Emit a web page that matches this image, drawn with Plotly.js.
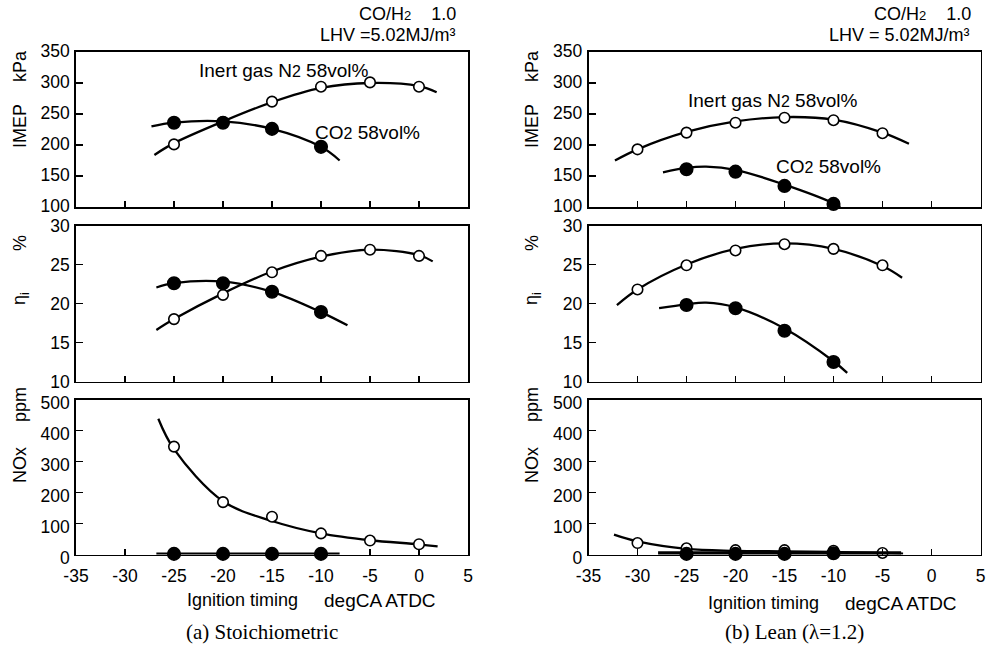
<!DOCTYPE html>
<html>
<head>
<meta charset="utf-8">
<script src="https://cdn.plot.ly/plotly-3.0.1.min.js"></script>
<style>html,body{margin:0;padding:0;background:#fff;}#chart{width:992px;height:648px;}</style>
</head>
<body>
<div id="chart"></div>
<script>
// ---------- (a) Stoichiometric ----------
const stoichTiming    = [-25, -20, -15, -10, -5, 0];
const stoichTimingCO2 = [-25, -20, -15, -10];
const stoichImepN2  = [201, 237, 270, 294, 301, 294];
const stoichImepCO2 = [236, 236, 226, 197];
const stoichEtaN2   = [18.0, 21.1, 24.0, 26.1, 26.9, 26.1];
const stoichEtaCO2  = [22.6, 22.6, 21.5, 18.9];
const stoichNoxN2   = [348, 169, 122, 68, 45, 33];
const stoichNoxCO2  = [2, 2, 2, 2];

// fitted curves (a)
const stoichImepN2CurveX  = [-27, -25, -20, -15, -10, -5, 0, 1.8];
const stoichImepN2CurveY  = [184, 203, 238, 269, 292, 300, 295, 285];
const stoichImepCO2CurveX = [-27.3, -25, -20, -15, -10, -8.1];
const stoichImepCO2CurveY = [230, 236, 238, 226, 197, 175];
const stoichEtaN2CurveX   = [-26.8, -25, -20, -15, -10, -5, 0, 1.4];
const stoichEtaN2CurveY   = [16.6, 18.0, 21.3, 24.1, 26.0, 26.9, 26.2, 25.4];
const stoichEtaCO2CurveX  = [-26.8, -25, -20, -15, -10, -7.3];
const stoichEtaCO2CurveY  = [22.05, 22.6, 22.8, 21.5, 18.9, 17.2];
const stoichNoxN2CurveX   = [-26.6, -25, -20, -15, -10, -5, 0, 1.9];
const stoichNoxN2CurveY   = [438, 340, 172, 108, 68, 46, 33, 26];
const stoichNoxCO2CurveX  = [-26.8, -8.1];
const stoichNoxCO2CurveY  = [2, 2];

// ---------- (b) Lean (lambda = 1.2) ----------
const leanTiming    = [-30, -25, -20, -15, -10, -5];
const leanTimingCO2 = [-25, -20, -15, -10];
const leanImepN2  = [193, 220, 236, 244, 240, 219];
const leanImepCO2 = [161, 157, 134, 105];
const leanEtaN2   = [21.8, 24.9, 26.8, 27.6, 27.0, 24.9];
const leanEtaCO2  = [19.8, 19.4, 16.5, 12.5];
const leanNoxN2   = [37, 20, 14, 14, 12, 5];
const leanNoxCO2  = [2, 2, 2, 4];

// fitted curves (b)
const leanImepN2CurveX  = [-32.3, -30, -25, -20, -15, -10, -5, -2.3];
const leanImepN2CurveY  = [175, 193, 221, 238, 245, 241, 220, 202];
const leanImepCO2CurveX = [-27.4, -25, -23, -20, -15, -10, -9.3];
const leanImepCO2CurveY = [156, 163, 165, 160, 136, 106, 100];
const leanEtaN2CurveX   = [-32.1, -30, -25, -20, -15, -10, -5, -3];
const leanEtaN2CurveY   = [19.8, 21.8, 25.0, 27.0, 27.7, 27.0, 24.8, 23.3];
const leanEtaCO2CurveX  = [-27.8, -25, -23, -20, -15, -10, -8.6];
const leanEtaCO2CurveY  = [19.4, 19.9, 20.1, 19.5, 16.8, 12.6, 11.1];
const leanNoxN2CurveX   = [-32.4, -30, -25, -20, -15, -10, -5, -2.9];
const leanNoxN2CurveY   = [64, 42, 18, 12, 10, 8, 5, 3];
const leanNoxCO2CurveX  = [-27.9, -3.1];
const leanNoxCO2CurveY  = [3, 3];

// tick labels / axis ranges
const xTickVals = [-35, -30, -25, -20, -15, -10, -5, 0, 5];
const imepTicks = [100, 150, 200, 250, 300, 350];
const etaTicks  = [10, 15, 20, 25, 30];
const noxTicks  = [0, 100, 200, 300, 400, 500];

// ---------- drawing ----------
const W = 992, H = 648;
const FONT = 'Liberation Sans, Arial, Helvetica, sans-serif';
const FS = 18;
const TICKFS = 17.5;

function curve(x, y, n, w) {
  return {x: x, y: y, xaxis: 'x' + n, yaxis: 'y' + n, type: 'scatter', mode: 'lines',
    line: {color: '#000', width: w || 2.3, shape: 'spline', smoothing: 1}, hoverinfo: 'skip', showlegend: false};
}
function pts(x, y, n, filled) {
  return {x: x, y: y, xaxis: 'x' + n, yaxis: 'y' + n, type: 'scatter', mode: 'markers', cliponaxis: false,
    marker: {symbol: 'circle', size: filled ? 12.5 : 10.5, color: filled ? '#000' : '#fff',
      line: {color: '#000', width: 1.6}}, showlegend: false};
}

const traces = [
  curve(stoichImepN2CurveX, stoichImepN2CurveY, 1), curve(stoichImepCO2CurveX, stoichImepCO2CurveY, 1),
  pts(stoichTiming, stoichImepN2, 1, false), pts(stoichTimingCO2, stoichImepCO2, 1, true),
  curve(stoichEtaN2CurveX, stoichEtaN2CurveY, 2), curve(stoichEtaCO2CurveX, stoichEtaCO2CurveY, 2),
  pts(stoichTiming, stoichEtaN2, 2, false), pts(stoichTimingCO2, stoichEtaCO2, 2, true),
  curve(stoichNoxN2CurveX, stoichNoxN2CurveY, 3), curve(stoichNoxCO2CurveX, stoichNoxCO2CurveY, 3, 2.6),
  pts(stoichTiming, stoichNoxN2, 3, false), pts(stoichTimingCO2, stoichNoxCO2, 3, true),

  curve(leanImepN2CurveX, leanImepN2CurveY, 4), curve(leanImepCO2CurveX, leanImepCO2CurveY, 4),
  pts(leanTiming, leanImepN2, 4, false), pts(leanTimingCO2, leanImepCO2, 4, true),
  curve(leanEtaN2CurveX, leanEtaN2CurveY, 5), curve(leanEtaCO2CurveX, leanEtaCO2CurveY, 5),
  pts(leanTiming, leanEtaN2, 5, false), pts(leanTimingCO2, leanEtaCO2, 5, true),
  curve(leanNoxN2CurveX, leanNoxN2CurveY, 6), pts(leanTiming, leanNoxN2, 6, false),
  curve(leanNoxCO2CurveX, leanNoxCO2CurveY, 6, 4.5), pts(leanTimingCO2, leanNoxCO2, 6, true)
];

// panel geometry in pixels
const colX = [[76, 468], [588.5, 980.5]];
const rowY = [[52, 207], [225.5, 381.5], [399.5, 554.5]];
const yLabelShift = [-1, 0, 3];
const yTickSets = [imepTicks, etaTicks, noxTicks];

const layout = {
  width: W, height: H, margin: {l: 0, r: 0, t: 0, b: 0},
  paper_bgcolor: '#fff', plot_bgcolor: '#fff', showlegend: false,
  font: {family: FONT, size: FS, color: '#000'},
  annotations: []
};

for (let c = 0; c < 2; c++) {
  for (let r = 0; r < 3; r++) {
    const n = c * 3 + r + 1;
    const suf = n === 1 ? '' : String(n);
    const ticks = yTickSets[r];
    layout['xaxis' + suf] = {
      domain: [colX[c][0] / W, colX[c][1] / W], anchor: 'y' + n,
      range: [-35, 5], tickvals: xTickVals, ticktext: xTickVals.map(String),
      ticks: 'inside', ticklen: 6, tickwidth: 1.5, tickcolor: '#000',
      showline: true, linewidth: 1.8, linecolor: '#000', mirror: true,
      showgrid: false, zeroline: false, showticklabels: r === 2,
      ticklabelstandoff: 5,
      tickfont: {family: FONT, size: TICKFS, color: '#000'}
    };
    layout['yaxis' + suf] = {
      domain: [1 - rowY[r][1] / H, 1 - rowY[r][0] / H], anchor: 'x' + n,
      range: [ticks[0], ticks[ticks.length - 1]], tickvals: ticks, ticktext: ticks.map(String),
      ticks: 'inside', ticklen: 7, tickwidth: 1.5, tickcolor: '#000',
      showline: true, linewidth: 1.8, linecolor: '#000', mirror: true,
      showgrid: false, zeroline: false, ticklabelstandoff: 1, ticklabelshift: yLabelShift[r],
      tickfont: {family: FONT, size: TICKFS, color: '#000'}
    };
  }
}

function ann(text, px, py, opts) {
  layout.annotations.push(Object.assign({
    text: text, x: px / W, y: 1 - py / H, xref: 'paper', yref: 'paper',
    showarrow: false, xanchor: 'center', yanchor: 'middle',
    font: {family: FONT, size: FS, color: '#000'}
  }, opts || {}));
}
const rot = {textangle: -90};
const small = (s, sz) => '<span style="font-size:' + sz + 'px">' + s + '</span>';
const hdr = {xanchor: 'right', font: {family: FONT, size: 18, color: '#000'}};
const lbl = {xanchor: 'left', font: {family: FONT, size: 19, color: '#000'}};

// y-axis titles
const yTitleX = [20, 532];
for (let c = 0; c < 2; c++) {
  const dx = yTitleX[c];
  ann('kPa', dx, 66, rot);
  ann('IMEP', dx, 126, rot);
  ann('%', dx, 243, rot);
  ann('η<sub>i</sub>', dx + 1, 299, rot);
  ann('ppm', dx, 405, rot);
  ann('NOx', dx, 465, rot);
}

// header notes
ann('CO/H' + small('2', 13) + '    1.0', 458, 14, hdr);
ann('LHV =5.02MJ/m³', 458, 35.5, hdr);
ann('CO/H' + small('2', 13) + '    1.0', 973, 14, hdr);
ann('LHV = 5.02MJ/m³', 972, 35.5, hdr);

// series labels
ann('Inert gas N' + small('2', 16) + ' 58vol%', 197, 70, lbl);
ann('CO' + small('2', 16) + ' 58vol%', 313, 132, lbl);
ann('Inert gas N' + small('2', 16) + ' 58vol%', 686, 100, lbl);
ann('CO' + small('2', 16) + ' 58vol%', 774, 167, lbl);

// x-axis titles
ann('Ignition timing', 185, 600, {xanchor: 'left'});
ann('degCA ATDC', 438, 600, {xanchor: 'right', font: {family: FONT, size: 19, color: '#000'}});
ann('Ignition timing', 706, 603, {xanchor: 'left'});
ann('degCA ATDC', 959, 603, {xanchor: 'right', font: {family: FONT, size: 19, color: '#000'}});

// captions
const serif = {family: 'Liberation Serif, Times New Roman, serif', size: 21, color: '#000'};
ann('(a) Stoichiometric', 262, 632, {font: serif});
ann('(b) Lean (λ=1.2)', 794, 632, {font: serif});

Plotly.newPlot('chart', traces, layout, {displayModeBar: false, staticPlot: true});
</script>
</body>
</html>
